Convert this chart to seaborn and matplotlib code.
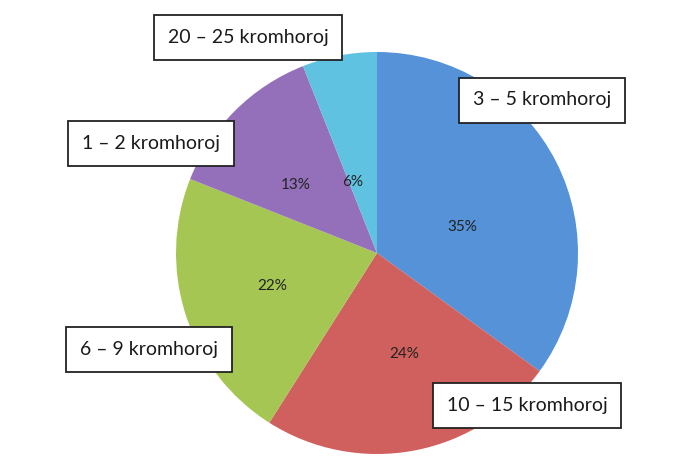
import matplotlib
matplotlib.use("Agg")
import matplotlib.pyplot as plt
import seaborn as sns

# Data
categories = ["3 – 5 kromhoroj", "10 – 15 kromhoroj", "6 – 9 kromhoroj",
              "1 – 2 kromhoroj", "20 – 25 kromhoroj"]
shares = [35, 24, 22, 13, 6]
colors = ["#5592D8", "#D0605E", "#A5C653", "#9470BA", "#5EC2E0"]

# Layout (pixel coordinates, y measured from top)
label_pos = [(542, 100), (527, 405), (149, 349), (151, 143), (248, 37)]
pct_pos = [(462, 227), (404, 354), (272, 286), (296, 185), (353, 182)]
W, H = 678, 463
center = (377, 253)
radius = 201

sns.set_theme(style="white")
plt.rcParams["font.family"] = ["Lato", "DejaVu Sans"]

fig = plt.figure(figsize=(W / 100, H / 100), dpi=100)
ax = fig.add_axes([0, 0, 1, 1])
wedges, texts, autotexts = ax.pie(
    shares, colors=colors, startangle=90, counterclock=False,
    center=(center[0], H - center[1]), radius=radius, autopct="%d%%",
    pctdistance=0.5, wedgeprops=dict(linewidth=0),
    textprops=dict(fontsize=11, color="#222222"))
for t, (x, y) in zip(autotexts, pct_pos):
    t.set_position((x, H - y))
    t.set_ha("center"); t.set_va("center")

for lab, (x, y) in zip(categories, label_pos):
    ax.text(x, H - y, lab, ha="center", va="center", fontsize=14,
            color="#1a1a1a",
            bbox=dict(boxstyle="square,pad=0.72", facecolor="white",
                      edgecolor="#222222", linewidth=1.3))

ax.set_xlim(0, W)
ax.set_ylim(0, H)
ax.set_aspect("equal")
ax.axis("off")
fig.savefig("out.png", dpi=100, facecolor="white")
